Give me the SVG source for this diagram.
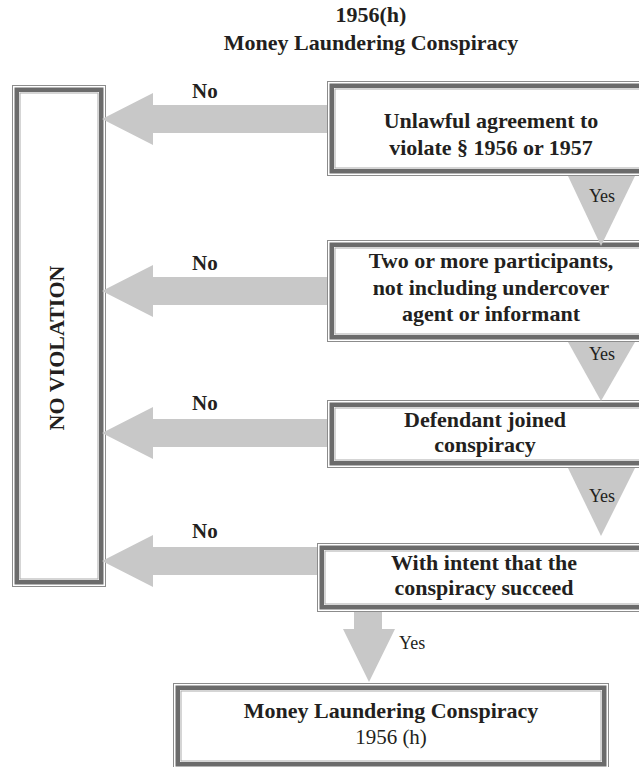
<svg xmlns="http://www.w3.org/2000/svg" width="639" height="767" viewBox="0 0 639 767">
  <style>
    .ttl { font-family: "Liberation Serif", "Times New Roman", serif; font-weight: bold; font-size: 22px; fill: #231f20; text-anchor: middle; }
    .lbl { font-family: "Liberation Serif", "Times New Roman", serif; font-weight: bold; font-size: 22px; fill: #231f20; text-anchor: middle; }
    .sub { font-family: "Liberation Serif", "Times New Roman", serif; font-size: 21px; fill: #231f20; text-anchor: middle; }
    .no { font-family: "Liberation Serif", "Times New Roman", serif; font-weight: bold; font-size: 21px; fill: #231f20; }
    .yes { font-family: "Liberation Serif", "Times New Roman", serif; font-size: 18px; fill: #231f20; }
    .b-out { fill: #ffffff; stroke: #8c8c8c; stroke-width: 1; }
    .b-band { fill: none; stroke: #6b6b6b; stroke-width: 4.5; }
    .b-in { fill: none; stroke: #ababab; stroke-width: 1; }
    .flow { fill: #c8c8c8; stroke: none; }
  </style>

  <!-- heading -->
  <g id="title">
    <text class="ttl" x="371" y="22">1956(h)</text>
    <text class="ttl" x="371" y="50">Money Laundering Conspiracy</text>
  </g>

  <!-- outcome: no violation -->
  <g id="no-violation">
    <rect class="b-out" x="12.5" y="85.5" width="93" height="501"/>
    <rect class="b-band" x="16.75" y="89.75" width="84.5" height="492.5"/>
    <rect class="b-in" x="20" y="93" width="78" height="486"/>
    <text class="lbl" transform="translate(57 348) rotate(-90)" y="7" font-size="20">NO VIOLATION</text>
  </g>

  <!-- element 1 -->
  <g id="agreement">
    <rect class="b-out" x="327.5" y="81.5" width="322" height="94"/>
    <rect class="b-band" x="331.75" y="85.75" width="313.5" height="85.5"/>
    <rect class="b-in" x="335" y="89" width="307" height="79"/>
    <text class="lbl" x="491" y="128">Unlawful agreement to</text>
    <text class="lbl" x="491" y="155">violate § 1956 or 1957</text>
  </g>

  <!-- element 2 -->
  <g id="participants">
    <rect class="b-out" x="327.5" y="240.5" width="322" height="101"/>
    <rect class="b-band" x="331.75" y="244.75" width="313.5" height="92.5"/>
    <rect class="b-in" x="335" y="248" width="307" height="86"/>
    <text class="lbl" x="491" y="268">Two or more participants,</text>
    <text class="lbl" x="491" y="295">not including undercover</text>
    <text class="lbl" x="491" y="321">agent or informant</text>
  </g>

  <!-- element 3 -->
  <g id="joined">
    <rect class="b-out" x="327.5" y="400.5" width="322" height="67"/>
    <rect class="b-band" x="331.75" y="404.75" width="313.5" height="58.5"/>
    <rect class="b-in" x="335" y="408" width="307" height="52"/>
    <text class="lbl" x="485" y="427">Defendant joined</text>
    <text class="lbl" x="485" y="452">conspiracy</text>
  </g>

  <!-- element 4 -->
  <g id="intent">
    <rect class="b-out" x="317.5" y="543.5" width="332" height="68"/>
    <rect class="b-band" x="321.75" y="547.75" width="323.5" height="59.5"/>
    <rect class="b-in" x="325" y="551" width="317" height="53"/>
    <text class="lbl" x="484" y="570">With intent that the</text>
    <text class="lbl" x="484" y="595">conspiracy succeed</text>
  </g>

  <!-- outcome: offence established -->
  <g id="conspiracy">
    <rect class="b-out" x="173.5" y="683.5" width="435" height="85"/>
    <rect class="b-band" x="177.75" y="687.75" width="426.5" height="76.5"/>
    <rect class="b-in" x="181" y="691" width="420" height="70"/>
    <text class="lbl" x="391" y="718">Money Laundering Conspiracy</text>
    <text class="sub" x="391" y="744">1956 (h)</text>
  </g>

  <!-- connectors -->
  <g id="connectors">
    <!-- "No" branches to the left -->
    <polygon class="flow" points="327,105 153,105 153,93 102,119 153,145 153,133 327,133"/>
    <polygon class="flow" points="327,277 153,277 153,265 102,291 153,317 153,305 327,305"/>
    <polygon class="flow" points="327,419 153,419 153,407 102,433 153,459 153,447 327,447"/>
    <polygon class="flow" points="317,547 153,547 153,535 102,561 153,587 153,575 317,575"/>
    <text class="no" x="192" y="98">No</text>
    <text class="no" x="192" y="270">No</text>
    <text class="no" x="192" y="410">No</text>
    <text class="no" x="192" y="538">No</text>

    <!-- "Yes" steps downward -->
    <polygon class="flow" points="568,176 635,176 601,246"/>
    <polygon class="flow" points="568,342 635,342 601,401"/>
    <polygon class="flow" points="568,468 635,468 601,536"/>
    <polygon class="flow" points="354,612 382,612 382,629 395,629 369,682 343,629 354,629"/>
    <text class="yes" x="602" y="202" text-anchor="middle">Yes</text>
    <text class="yes" x="602" y="360" text-anchor="middle">Yes</text>
    <text class="yes" x="602" y="502" text-anchor="middle">Yes</text>
    <text class="yes" x="399" y="649">Yes</text>
  </g>
</svg>
